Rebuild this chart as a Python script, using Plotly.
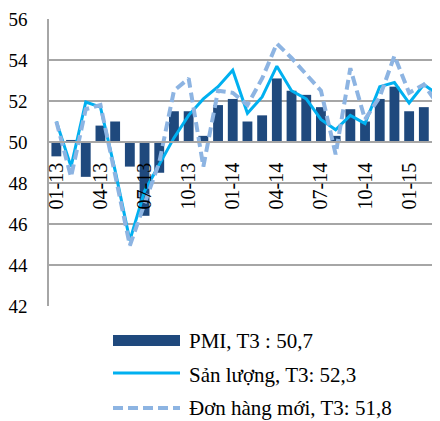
import plotly.graph_objects as go

# ── Data ──────────────────────────────────────────────────────────────────────
MONTHS = [f"{m:02d}-{y}" for y in (13, 14) for m in range(1, 13)] + ["01-15", "02-15", "03-15"]
PMI = [49.3, 50.1, 48.3, 50.8, 51.0, 48.8, 46.4, 48.5, 51.5, 51.5, 50.3, 51.8,
       52.1, 51.0, 51.3, 53.1, 52.5, 52.3, 51.7, 50.3, 51.6, 51.0, 52.1, 52.7,
       51.5, 51.7, 50.7]
SAN_LUONG = [51.0, 48.8, 51.95, 51.7, 48.6, 45.2, 47.6, 48.9, 50.2, 51.3, 52.1, 52.7,
             53.5, 51.4, 52.2, 53.7, 52.5, 52.1, 51.1, 50.6, 51.3, 50.9, 52.7, 52.9,
             51.9, 52.8, 52.3]
DON_HANG_MOI = [51.0, 48.3, 51.6, 51.8, 48.4, 44.95, 47.0, 49.0, 52.5, 53.1, 48.8, 52.5,
                52.4, 51.8, 53.1, 54.8, 54.1, 53.3, 52.5, 49.4, 53.6, 51.1, 52.2, 54.2,
                52.4, 52.8, 51.8]
TICK_LABELS = MONTHS[::3]
LEGEND_TEXT = ["PMI, T3 : 50,7", "Sản lượng, T3: 52,3", "Đơn hàng mới, T3: 51,8"]

# ── Style ─────────────────────────────────────────────────────────────────────
C_BAR = "#1F497D"
C_SOLID = "#00B0F0"
C_DASH = "#8DB4E2"
C_GRID = "#A6A6A6"
FONT = "Liberation Serif"

# the page body adds an 8px margin, so the figure is laid out 8px smaller
OFF = 8
W, H = 440 - OFF, 421 - OFF
L, T, B = 49 - OFF, 19 - OFF, H - (306 - OFF)
Y_MIN, Y_MAX = 42, 56


def px_x(px):
    # window pixel -> paper fraction
    return (px - OFF - L) / (W - L)


def px_y(py):
    return (H - B - (py - OFF)) / (H - B - T)


fig = go.Figure()
fig.add_trace(go.Bar(
    x=MONTHS, y=[p - 50 for p in PMI], base=50,
    marker=dict(color=C_BAR, line=dict(width=0)), name=LEGEND_TEXT[0],
))
fig.add_trace(go.Scatter(
    x=MONTHS, y=SAN_LUONG, mode="lines", name=LEGEND_TEXT[1],
    line=dict(color=C_SOLID, width=3),
))
fig.add_trace(go.Scatter(
    x=MONTHS, y=DON_HANG_MOI, mode="lines", name=LEGEND_TEXT[2],
    line=dict(color=C_DASH, width=4, dash="10px,5px"),
))

# custom legend (long symbols like the original)
shapes = []
annotations = []
rows = [341, 375, 408]
shapes.append(dict(type="rect", xref="paper", yref="paper",
                   x0=px_x(113), x1=px_x(180), y0=px_y(346), y1=px_y(335),
                   fillcolor=C_BAR, line=dict(width=0)))
shapes.append(dict(type="line", xref="paper", yref="paper",
                   x0=px_x(113), x1=px_x(180), y0=px_y(rows[1] - 2), y1=px_y(rows[1] - 2),
                   line=dict(color=C_SOLID, width=3)))
shapes.append(dict(type="line", xref="paper", yref="paper",
                   x0=px_x(113), x1=px_x(180), y0=px_y(rows[2]), y1=px_y(rows[2]),
                   line=dict(color=C_DASH, width=4, dash="10px,5px")))
for text, py in zip(LEGEND_TEXT, rows):
    annotations.append(dict(
        text=text, xref="paper", yref="paper", x=px_x(187), y=px_y(py),
        xanchor="left", yanchor="middle", showarrow=False,
        font=dict(family=FONT, size=21, color="black"),
    ))

fig.update_layout(
    width=W, height=H,
    margin=dict(l=L, r=0, t=T, b=B, autoexpand=False),
    paper_bgcolor="white", plot_bgcolor="white",
    showlegend=False, bargap=0.33,
    font=dict(family=FONT, size=18, color="black"),
    xaxis=dict(
        type="category", range=[-0.5, 26.1], automargin=False,
        anchor="free", position=(50 - Y_MIN) / (Y_MAX - Y_MIN),
        showline=True, linecolor=C_GRID, linewidth=1.5,
        showgrid=False, zeroline=False,
        tickmode="array", tickvals=TICK_LABELS, ticktext=TICK_LABELS,
        tickangle=-90, ticks="", ticklabelstandoff=12,
        tickfont=dict(family=FONT, size=20, color="black"),
    ),
    yaxis=dict(
        range=[Y_MIN, Y_MAX], dtick=2, tick0=42, automargin=False,
        showgrid=True, gridcolor=C_GRID, gridwidth=1.5,
        showline=True, linecolor=C_GRID, linewidth=1.5,
        zeroline=False, ticks="", ticklabelstandoff=16,
        tickfont=dict(family=FONT, size=19, color="black"),
    ),
    shapes=shapes,
    annotations=annotations,
)

fig.write_html("out.html")
